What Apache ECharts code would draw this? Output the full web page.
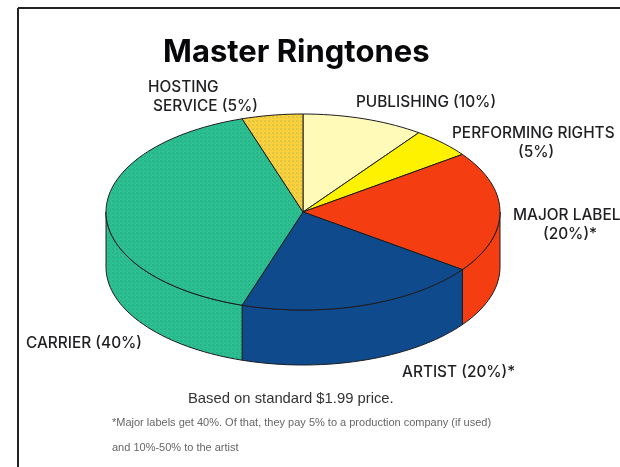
<!DOCTYPE html>
<html>
<head>
<meta charset="utf-8">
<style>html,body{margin:0;padding:0;background:#fff}#chart{width:620px;height:467px}</style>
<script src="https://cdn.jsdelivr.net/npm/echarts@6/dist/echarts.min.js"></script>
</head>
<body>
<div id="chart"></div>
<script>
// Revenue split of a master ringtone sale, clockwise from twelve o'clock.
const categories = ['PUBLISHING', 'PERFORMING RIGHTS', 'MAJOR LABEL', 'ARTIST', 'CARRIER', 'HOSTING SERVICE'];
const shares = [10, 5, 20, 20, 40, 5];
const colors = ['#FFFAB8', '#FFF200', '#F43E12', '#0F4A8C', '#2CBF90', '#FBD23E'];
const dotted = [false, false, false, false, true, true];
const titleText = 'Master Ringtones';
const labelFont = '500 15.4px Inter, sans-serif';
const noteFont = '"Liberation Sans", sans-serif';

// Disc geometry: elliptical top face plus an extruded rim.
const cx = 303, cy = 212, rx = 197, ry = 98, depth = 55;
const total = shares.reduce((a, b) => a + b, 0);
const ink = '#1c1c20';

function startAngle(i) {
  let s = 0;
  for (let k = 0; k < i; k++) s += shares[k];
  return s / total * 360;
}
function rimPoint(deg, dy) {
  const t = deg * Math.PI / 180;
  return [cx + rx * Math.sin(t), cy - ry * Math.cos(t) + dy];
}
function arc(a, b, dy) {
  const pts = [];
  const n = Math.max(2, Math.ceil(Math.abs(b - a) / 2));
  for (let k = 0; k <= n; k++) pts.push(rimPoint(a + (b - a) * k / n, dy));
  return pts;
}
// Halftone tile for the screened print colours.
function dotFill(base) {
  const c = document.createElement('canvas');
  c.width = c.height = 4;
  const g = c.getContext('2d');
  g.fillStyle = base;
  g.fillRect(0, 0, 4, 4);
  g.fillStyle = 'rgba(10,90,70,0.10)';
  g.fillRect(0, 0, 2, 2);
  g.fillRect(2, 2, 1, 1);
  return { image: c, repeat: 'repeat' };
}
function fillFor(i) {
  return dotted[i] ? dotFill(colors[i]) : colors[i];
}

// The visible rim is the front half of the disc, 90 to 270 degrees.
function renderRim(params, api) {
  const i = params.dataIndex;
  const a = Math.max(startAngle(i), 90);
  const b = Math.min(startAngle(i) + api.value(0) / total * 360, 270);
  if (b <= a) return null;
  const points = arc(a, b, 0).concat(arc(b, a, depth));
  return { type: 'polygon', shape: { points }, style: { fill: fillFor(i), stroke: ink, lineWidth: 1 } };
}
function renderTop(params, api) {
  const i = params.dataIndex;
  const a = startAngle(i);
  const b = a + api.value(0) / total * 360;
  const points = [[cx, cy]].concat(arc(a, b, 0));
  return { type: 'polygon', shape: { points }, style: { fill: fillFor(i), stroke: ink, lineWidth: 1 } };
}

function text(str, x, y, opts) {
  return {
    type: 'text', x, y,
    style: Object.assign({ text: str, font: labelFont, fill: '#1f1f22', textVerticalAlign: 'middle' }, opts || {})
  };
}

const chart = echarts.init(document.getElementById('chart'), null, { renderer: 'canvas' });
chart.setOption({
  animation: false,
  backgroundColor: '#fff',
  title: {
    text: titleText, left: 158, top: 32,
    textStyle: { fontFamily: 'Inter, sans-serif', fontWeight: 700, fontSize: 31, color: '#08080a' }
  },
  series: [
    { type: 'custom', coordinateSystem: 'none', renderItem: renderRim, data: shares.map(v => [v]), z: 2 },
    { type: 'custom', coordinateSystem: 'none', renderItem: renderTop, data: shares.map(v => [v]), z: 3 }
  ],
  graphic: [
    { type: 'line', shape: { x1: 18, y1: 8, x2: 620, y2: 8 }, style: { stroke: '#222', lineWidth: 2 } },
    { type: 'line', shape: { x1: 18, y1: 8, x2: 18, y2: 467 }, style: { stroke: '#222', lineWidth: 2 } },
    text('HOSTING', 148, 87),
    text('SERVICE (5%)', 153, 106),
    text('PUBLISHING (10%)', 356, 102),
    text('PERFORMING RIGHTS', 452, 133),
    text('(5%)', 518, 152),
    text('MAJOR LABEL', 513, 215),
    text('(20%)*', 543, 234),
    text('CARRIER (40%)', 26, 343),
    text('ARTIST (20%)*', 402, 372),
    text('Based on standard $1.99 price.', 188, 399, { font: '14.8px ' + noteFont, fill: '#333' }),
    text('*Major labels get 40%. Of that, they pay 5% to a production company (if used)', 112, 423, { font: '11px ' + noteFont, fill: '#666' }),
    text('and 10%-50% to the artist', 112, 448, { font: '11px ' + noteFont, fill: '#666' })
  ]
});
</script>
</body>
</html>
